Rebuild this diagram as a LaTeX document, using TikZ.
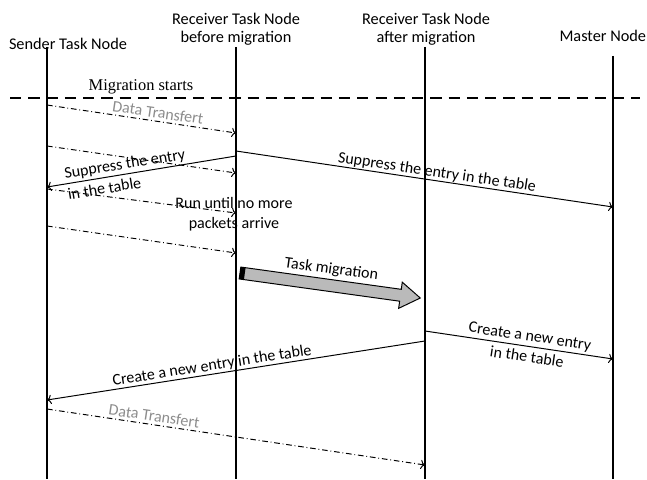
\documentclass[tikz,border=0pt]{standalone}
\usepackage{fontspec}
\setmainfont{Carlito}
\newfontfamily\timesfont{Liberation Serif}
\usetikzlibrary{positioning, arrows.meta}

\tikzset{
    vie/.style={line width=1.3pt},
    msg/.style={->, line width=0.7pt},
    data/.style={->, line width=0.7pt, dash pattern=on 4pt off 2pt on 0.6pt off 2pt},
    hdr/.style={font=\fontsize{11.6}{13}\selectfont, align=center},
    lbl/.style={font=\fontsize{11.4}{15}\selectfont, inner sep=2pt},
    dt/.style={lbl, text=black!45},
}

\begin{document}
\begin{tikzpicture}[>=To]

\useasboundingbox (0,0) rectangle (16.175,11.975);

\def\xS{1.175}
\def\xB{5.9}
\def\xA{10.625}
\def\xM{15.325}

% Entetes
\node[hdr] (hS) at (1.7,10.88) {Sender Task Node};
\node[hdr] (hB) at (5.9,11.25) {Receiver Task Node\\before migration};
\node[hdr] (hA) at (10.65,11.25) {Receiver Task Node\\after migration};
\node[hdr] (hM) at (15.07,11.08) {Master Node};

% Lignes de vie
\foreach \x/\t in {\xS/10.8, \xB/10.8, \xA/10.8, \xM/10.575} {
    \draw[vie] (\x,\t) -- (\x,0);
}

% Debut de la migration
\draw[line width=1.4pt, dash pattern=on 8pt off 5pt] (0.25,9.525) -- (16.0,9.525);
\node[font=\timesfont\fontsize{11.7}{13}\selectfont] (start) at (3.525,9.8) {Migration starts};

% Data Transfert
\coordinate (d1s) at (\xS,9.35);
\coordinate (d1b) at (\xB,8.65);
\draw[data] (d1s) -- node[pos=0.58, sloped, above, dt] {Data Transfert} (d1b);

\coordinate (d2s) at (\xS,8.325);
\coordinate (d2b) at (\xB,7.65);
\draw[data] (d2s) -- (d2b);

% Suppression de l'entree
\coordinate (sup1b) at (\xB,8.075);
\coordinate (sup1s) at (\xS,7.3);
\draw[msg] (sup1b) -- node[pos=0.58, sloped, lbl, align=left] {Suppress the entry\\in the table} (sup1s);

\coordinate (sup2b) at (\xB,8.2);
\coordinate (sup2m) at (\xM,6.8);
\draw[msg] (sup2b) -- node[pos=0.53, sloped, above, lbl, inner sep=0.5pt] {Suppress the entry in the table} (sup2m);

% Paquets restants
\coordinate (d3s) at (\xS,7.25);
\coordinate (d3b) at (\xB,6.65);
\draw[data] (d3s) -- (d3b);

\coordinate (d4s) at (\xS,6.325);
\coordinate (d4b) at (\xB,5.65);
\draw[data] (d4s) -- (d4b);

\node[lbl, align=center, font=\fontsize{11.4}{14.5}\selectfont] (run) at (5.85,6.62) {Run until no more\\packets arrive};

% Migration de la tache
\begin{scope}[shift={(6.0,5.15)}, rotate=-7.9]
    \filldraw[fill=black!27, line width=0.7pt] (0,0.15) -- (4.05,0.15) -- (4.05,0.33) -- (4.55,0)
        -- (4.05,-0.33) -- (4.05,-0.15) -- (0,-0.15) -- cycle;
    \fill (0,-0.15) rectangle (0.12,0.15);
    \node[lbl, rotate=-7.9] (task) at (2.25,0.4) {Task migration};
\end{scope}

% Nouvelle entree
\coordinate (new1a) at (\xA,3.7);
\coordinate (new1m) at (\xM,3.0);
\draw[msg] (new1a) -- node[pos=0.55, sloped, lbl, align=center] {Create a new entry\\in the table} (new1m);

\coordinate (new2a) at (\xA,3.45);
\coordinate (new2s) at (\xS,1.975);
\draw[msg] (new2a) -- node[pos=0.56, sloped, above, lbl, inner sep=0.5pt] {Create a new entry in the table} (new2s);

% Data Transfert apres migration
\coordinate (d5s) at (\xS,1.75);
\coordinate (d5a) at (\xA,0.35);
\draw[data] (d5s) -- node[pos=0.28, sloped, above, dt] {Data Transfert} (d5a);

\end{tikzpicture}
\end{document}
